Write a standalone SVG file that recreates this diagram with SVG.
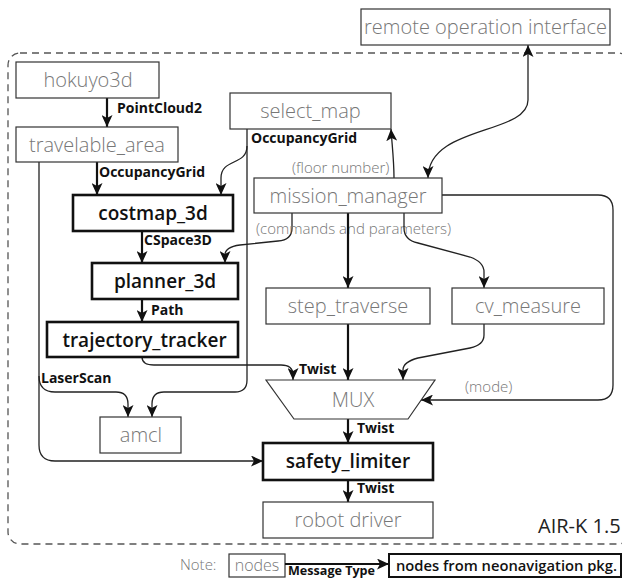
<svg xmlns="http://www.w3.org/2000/svg" width="622" height="579" viewBox="0 0 622 579">
<style>
.bg{fill:#fff}
.nb{fill:#fff;stroke:#333;stroke-width:1.2}
.bb{fill:#fff;stroke:#111;stroke-width:2.6}
.nt{font-family:"Open Sans","Liberation Sans",sans-serif;font-weight:300;font-size:20px;fill:#777;text-anchor:middle}
.bt{font-family:"Open Sans","Liberation Sans",sans-serif;font-weight:600;font-size:19px;fill:#111;text-anchor:middle}
.ml{font-family:"Open Sans","Liberation Sans",sans-serif;font-weight:700;font-size:14px;fill:#111}
.gl{font-family:"Open Sans","Liberation Sans",sans-serif;font-weight:300;font-size:15px;fill:#777}
.c{fill:none;stroke:#222;stroke-width:1.3}
.ct{fill:none;stroke:#111;stroke-width:2.2}
.a{marker-end:url(#ah)}
</style>
<defs>
<marker id="ah" viewBox="0 0 12 11" refX="12" refY="5.5" markerWidth="12" markerHeight="11" orient="auto-start-reverse" markerUnits="userSpaceOnUse">
<path d="M0,0 L12,5.5 L0,11 L3,5.5 z" fill="#111"/>
</marker>
</defs>
<rect class="bg" x="0" y="0" width="622" height="579"/>
<rect id="frame" x="8" y="53" width="622" height="491" rx="12" fill="none" stroke="#555" stroke-width="1.3" stroke-dasharray="7 5"/>
<text x="538" y="533" font-family="Open Sans, Liberation Sans, sans-serif" font-size="20" fill="#222">AIR-K 1.5</text>

<g id="connectors">
<path class="ct a" d="M107,98 V127"/>
<text class="ml" x="117" y="113">PointCloud2</text>
<path class="ct a" d="M97,162 V195"/>
<text class="ml" x="99" y="177">OccupancyGrid</text>
<path class="c a" d="M247,146 C247,166 221,158 221,178 V195"/>
<path class="c a" d="M247,129 V380 Q247,392 235,392 H164 Q152,392 152,404 V417"/>
<text class="ml" x="251" y="143">OccupancyGrid</text>
<path class="c a" d="M39,162 V445 Q39,461 55,461 H263"/>
<path class="c a" d="M39,376 Q39,392 55,392 H116 Q128,392 128,404 V417"/>
<text class="ml" x="41" y="383">LaserScan</text>
<path class="ct a" d="M142,231 V263"/>
<text class="ml" x="144" y="245">CSpace3D</text>
<path class="ct a" d="M142,299 V322"/>
<text class="ml" x="151" y="315">Path</text>
<path class="c a" d="M142,357 Q142,365 154,365 H281 Q293,365 293,375 V380"/>
<text class="ml" x="299" y="374">Twist</text>
<path class="c a" d="M292,213 V228 Q292,240 278,241 L240,245 Q225,247 225,255 V263"/>
<text class="gl" x="256" y="234">(commands and parameters)</text>
<path class="c a" d="M394,178 C394,160 392,145 391,129"/>
<text class="gl" x="292" y="173">(floor number)</text>
<path class="c a" d="M528,45 V100 C528,135 428,125 428,178" marker-start="url(#ah)"/>
<path class="ct a" d="M348,213 V288"/>
<path class="c a" d="M404,213 V228 Q404,240 418,243 L470,257 Q484,262 484,272 V288"/>
<path class="c a" d="M442,195 H598 Q613,195 613,210 V385 Q613,400 598,400 H421"/>
<text class="gl" x="465" y="392">(mode)</text>
<path class="ct a" d="M348,324 V380"/>
<path class="c a" d="M484,324 V335 Q484,345 470,348 L418,358 Q403,362 403,370 V380"/>
<path class="ct a" d="M348,419 V443"/>
<text class="ml" x="357" y="433">Twist</text>
<path class="ct a" d="M348,480 V502"/>
<text class="ml" x="357" y="493">Twist</text>
</g>

<g id="remote"><rect class="nb" x="361" y="9" width="249" height="36"/><text class="nt" x="485.5" y="34">remote operation interface</text></g>
<g id="hokuyo3d"><rect class="nb" x="16" y="62" width="143" height="36"/><text class="nt" x="88" y="87">hokuyo3d</text></g>
<g id="travelable_area"><rect class="nb" x="16" y="127" width="162" height="35"/><text class="nt" x="97" y="152">travelable_area</text></g>
<g id="select_map"><rect class="nb" x="230" y="93" width="161" height="36"/><text class="nt" x="310.5" y="118">select_map</text></g>
<g id="mission_manager"><rect class="nb" x="254" y="178" width="188" height="35"/><text class="nt" x="348" y="203">mission_manager</text></g>
<g id="costmap_3d"><rect class="bb" x="73" y="195" width="160" height="36"/><text class="bt" x="153" y="220">costmap_3d</text></g>
<g id="planner_3d"><rect class="bb" x="92" y="263" width="146" height="36"/><text class="bt" x="165" y="288">planner_3d</text></g>
<g id="trajectory_tracker"><rect class="bb" x="47" y="322" width="191" height="35"/><text class="bt" x="144.5" y="347">trajectory_tracker</text></g>
<g id="step_traverse"><rect class="nb" x="266" y="288" width="164" height="36"/><text class="nt" x="348" y="313">step_traverse</text></g>
<g id="cv_measure"><rect class="nb" x="452" y="288" width="152" height="36"/><text class="nt" x="528" y="313">cv_measure</text></g>
<g id="mux"><polygon class="nb" points="266,380 435,380 408,419 294,419"/><text class="nt" x="353" y="407">MUX</text></g>
<g id="amcl"><rect class="nb" x="100" y="417" width="81" height="36"/><text class="nt" x="141" y="442">amcl</text></g>
<g id="safety_limiter"><rect class="bb" x="263" y="443" width="170" height="37"/><text class="bt" x="348" y="468">safety_limiter</text></g>
<g id="robot_driver"><rect class="nb" x="263" y="502" width="170" height="36"/><text class="nt" x="348" y="527">robot driver</text></g>

<g id="legend">
<text class="gl" x="180" y="570">Note:</text>
<rect class="nb" x="229" y="554" width="56" height="23"/>
<text class="gl" x="257" y="571" style="text-anchor:middle;font-size:16px">nodes</text>
<path class="ct a" d="M285,564 H389"/>
<text class="ml" x="288" y="575" style="font-size:12px" textLength="87" lengthAdjust="spacingAndGlyphs">Message Type</text>
<rect class="bb" x="389" y="554" width="232" height="23" style="stroke-width:2"/>
<text class="ml" x="396" y="571" style="font-size:15px;font-weight:600" textLength="221" lengthAdjust="spacingAndGlyphs">nodes from neonavigation pkg.</text>
</g>
</svg>
